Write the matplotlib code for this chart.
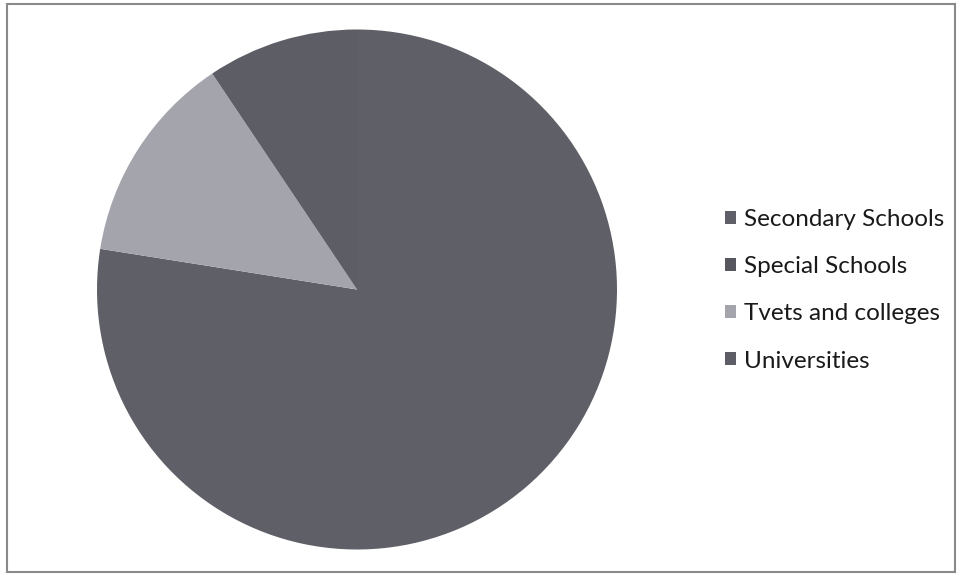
import matplotlib
matplotlib.use("Agg")
import matplotlib.pyplot as plt
from matplotlib.patches import Rectangle

categories = ["Secondary Schools", "Special Schools", "Tvets and colleges", "Universities"]
values = [77.5, 0.0, 13.1, 9.4]
colors = ["#5f5f68", "#56565e", "#a4a5ac", "#5d5d66"]

W, H = 959, 576
fig = plt.figure(figsize=(W / 100, H / 100), dpi=100)
fig.patch.set_facecolor("white")

# outer frame
fig.add_artist(Rectangle((7 / W, 4 / H), (955 - 7) / W, (572 - 4) / H,
                         transform=fig.transFigure, fill=False,
                         edgecolor="#8a8a8a", linewidth=1.5))

cx, cy, r = 357, 289.5, 260
ax = fig.add_axes([(cx - r) / W, (H - cy - r) / H, 2 * r / W, 2 * r / H])
wedges, _ = ax.pie(values, colors=colors, startangle=90, counterclock=False,
                   radius=1, wedgeprops=dict(linewidth=0))
ax.set_xlim(-1, 1)
ax.set_ylim(-1, 1)
ax.set_aspect("equal")
ax.axis("off")

leg = fig.legend(wedges, categories, loc="upper left",
                 bbox_to_anchor=(703 / W, 1 - 187 / H),
                 frameon=False, prop={"family": "Lato", "size": 17.5},
                 handlelength=0.45, handleheight=0.45, handletextpad=0.35,
                 labelspacing=1.08, labelcolor="#1a1a1a")

fig.savefig("out.png", dpi=100)
